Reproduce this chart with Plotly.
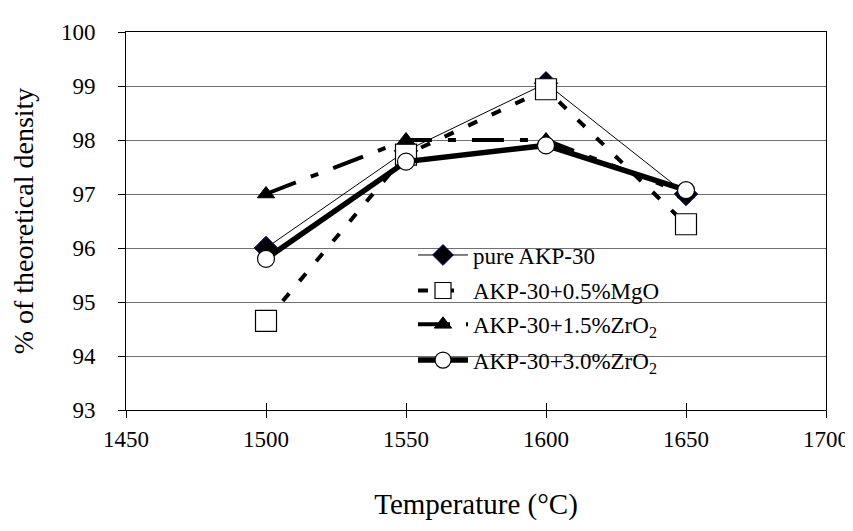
import plotly.graph_objects as go

temps = [1500, 1550, 1600, 1650]
pure_akp30 = [96.0, 97.8, 99.05, 97.0]
mgo_05 = [94.65, 97.73, 98.94, 96.44]
zro2_15 = [97.0, 98.0, 98.0, 97.0]
zro2_30 = [95.8, 97.6, 97.9, 97.07]

names = ["pure AKP-30", "AKP-30+0.5%MgO", "AKP-30+1.5%ZrO<sub>2</sub>", "AKP-30+3.0%ZrO<sub>2</sub>"]
x_ticks = [1450, 1500, 1550, 1600, 1650, 1700]
y_ticks = [93, 94, 95, 96, 97, 98, 99, 100]

FONT = "Liberation Serif"

fig = go.Figure()
fig.add_trace(go.Scatter(
    x=temps, y=pure_akp30, name=names[0], mode="lines+markers", legend="legend",
    line=dict(color="black", width=1),
    marker=dict(symbol="diamond", size=18, color="black", line=dict(color="#000080", width=1))))
fig.add_trace(go.Scatter(
    x=temps, y=mgo_05, name=names[1], mode="lines+markers", legend="legend2",
    line=dict(color="black", width=4, dash="10px,16px"),
    marker=dict(symbol="square", size=21, color="white", line=dict(color="black", width=1.2))))
fig.add_trace(go.Scatter(
    x=temps, y=zro2_15, name=names[2], mode="lines+markers", legend="legend3",
    line=dict(color="black", width=4, dash="32px,16px,8px,16px"),
    marker=dict(symbol="triangle-up", size=15, color="black", line=dict(color="black", width=1))))
fig.add_trace(go.Scatter(
    x=temps, y=zro2_30, name=names[3], mode="lines+markers", legend="legend4",
    line=dict(color="black", width=5.5),
    marker=dict(symbol="circle", size=17, color="white", line=dict(color="black", width=1.2))))
# helper trace for the inner half of the crossing x ticks
fig.add_trace(go.Scatter(x=[None], y=[None], xaxis="x2", showlegend=False, hoverinfo="skip"))

row_y = [0.410, 0.316, 0.2265, 0.132]
leg_common = dict(x=0.41, xanchor="left", yanchor="middle", bgcolor="rgba(0,0,0,0)",
                  font=dict(family=FONT, size=23, color="black"), itemwidth=50)
fig.update_layout(
    legend=dict(y=row_y[0], **leg_common),
    legend2=dict(y=row_y[1], **leg_common),
    legend3=dict(y=row_y[2], **leg_common),
    legend4=dict(y=row_y[3], **leg_common),
)

fig.update_layout(
    width=853, height=531,
    margin=dict(l=118, r=26, t=18, b=129),
    paper_bgcolor="white", plot_bgcolor="white",
    font=dict(family=FONT, color="black", size=23),
    xaxis=dict(range=[1450, 1700], tickvals=x_ticks, ticktext=[str(v) for v in x_ticks],
               showgrid=False, zeroline=False, showline=True, linecolor="black", linewidth=1,
               mirror=True, ticks="outside", ticklen=7, tickcolor="black", tickwidth=1,
               tickfont=dict(family=FONT, size=23, color="black"), ticklabelstandoff=1,
               title=dict(text="Temperature (°C)", font=dict(family=FONT, size=29, color="black"),
                          standoff=43)),
    xaxis2=dict(range=[1450, 1700], tickvals=x_ticks, overlaying="x", side="bottom",
                showticklabels=False, showgrid=False, zeroline=False, showline=False,
                ticks="inside", ticklen=7, tickcolor="black", tickwidth=1),
    yaxis=dict(range=[93, 100], tickvals=y_ticks, ticktext=[str(v) for v in y_ticks],
               showgrid=True, gridcolor="#707070", gridwidth=1, zeroline=False,
               showline=True, linecolor="black", linewidth=1, mirror=True,
               ticks="outside", ticklen=7, tickcolor="black", tickwidth=1,
               tickfont=dict(family=FONT, size=23, color="black"), ticklabelstandoff=18,
               title=dict(text="% of theoretical density", font=dict(family=FONT, size=28, color="black"),
                          standoff=20)),
)

fig.write_html("out.html")
